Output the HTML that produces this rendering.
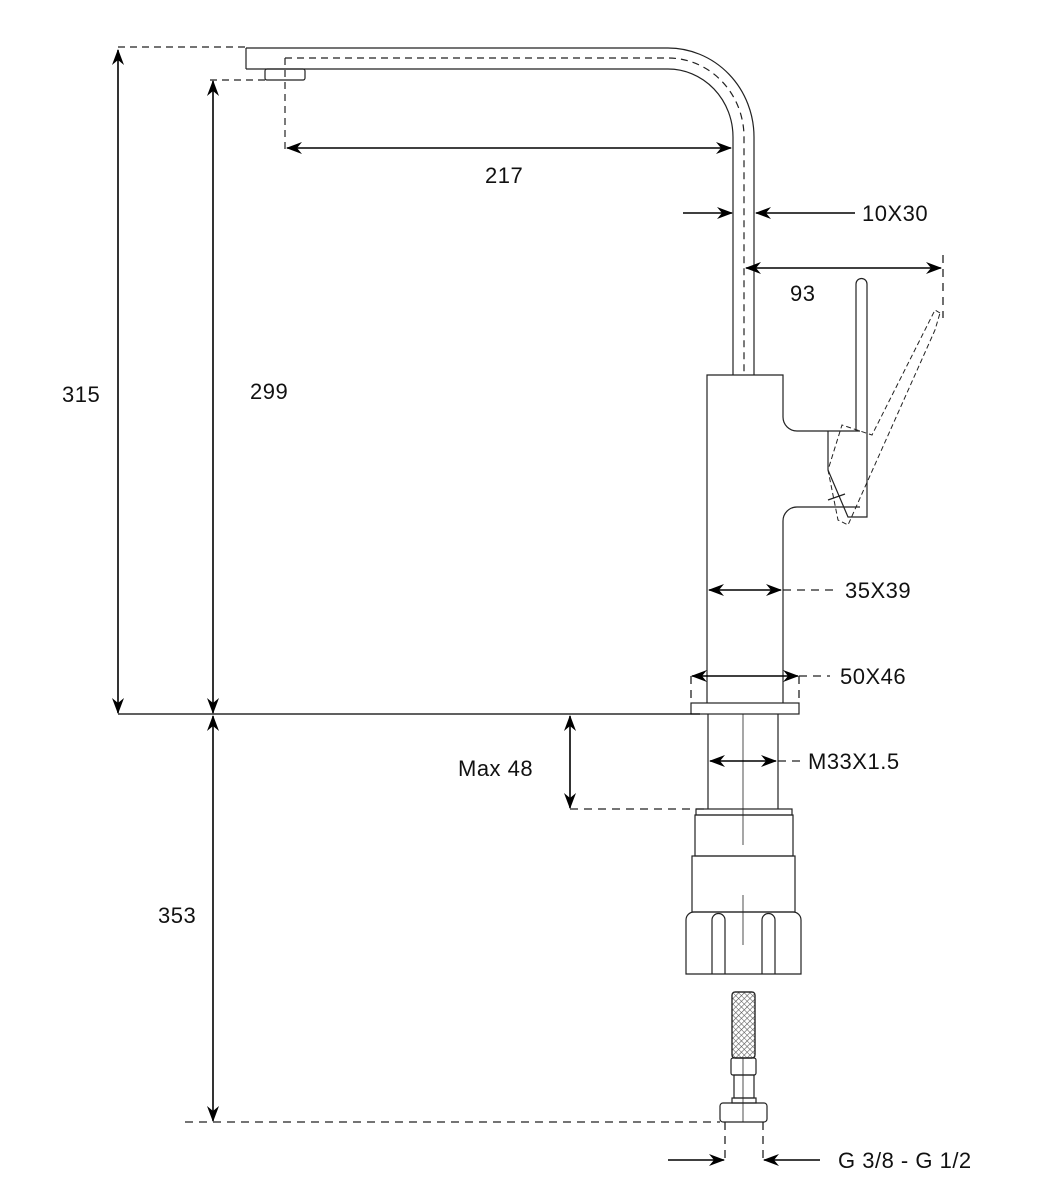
<!DOCTYPE html>
<html><head><meta charset="utf-8"><style>
html,body{margin:0;padding:0;background:#fff}
svg{display:block}
text{font-family:"Liberation Sans",sans-serif;font-size:22px;fill:#111;letter-spacing:0.5px}
</style></head><body>
<svg width="1040" height="1200" viewBox="0 0 1040 1200" xmlns="http://www.w3.org/2000/svg">
<defs>
<marker id="a" viewBox="0 0 16 12" refX="15" refY="6" markerWidth="16" markerHeight="12" markerUnits="userSpaceOnUse" orient="auto-start-reverse">
<path d="M0,0 L16,6 L0,12 L5,6 Z" fill="#000"/></marker>
<pattern id="h" width="4" height="4" patternUnits="userSpaceOnUse" patternTransform="rotate(45)"><line x1="0" y1="0" x2="0" y2="4" stroke="#555" stroke-width="1.2"/></pattern>
<pattern id="h2" width="4" height="4" patternUnits="userSpaceOnUse" patternTransform="rotate(-45)"><line x1="0" y1="0" x2="0" y2="4" stroke="#555" stroke-width="1"/></pattern>
</defs>
<g fill="none" stroke="#222" stroke-width="1.2">
<path d="M246,48 L668,48 A86,89 0 0 1 754,137 L754,375"/>
<path d="M246,69 L668,69 A65,68 0 0 1 733,137 L733,375"/>
<line x1="246" y1="48" x2="246" y2="69"/>
<rect x="265" y="69" width="40" height="11" rx="2"/>
<path d="M285,58 L668,58 A76,79 0 0 1 744,137 L744,375" stroke-dasharray="7,5"/>
<line x1="285" y1="58" x2="285" y2="150" stroke-dasharray="7,5"/>
<line x1="118" y1="47" x2="246" y2="47" stroke-dasharray="7,5"/>
<line x1="210" y1="80" x2="265" y2="80" stroke-dasharray="7,5"/>
<path d="M707,703 L707,375 L783,375 L783,417 A14,14 0 0 0 797,431 L860,431"/>
<path d="M860,507 L797,507 A14,14 0 0 0 783,521 L783,703"/>
<path d="M856,431 L856,284 A5,5 0 0 1 867,284 L867,517 L848,517 L828,470 L828,431"/>
<line x1="828" y1="500" x2="845" y2="494"/>
<path d="M940,313 L935,310 L872,435 L842,425 L828,470 L838,520 L848,525 L935,330 Z" stroke-dasharray="5,3" stroke-width="1"/>
<rect x="691" y="703" width="108" height="11"/>
<line x1="708" y1="714" x2="708" y2="809"/><line x1="778" y1="714" x2="778" y2="809"/>
<rect x="696" y="809" width="96" height="6"/>
<rect x="695" y="815" width="98" height="41"/>
<rect x="692" y="856" width="103" height="56"/>
<path d="M686,974 L686,920 A8,8 0 0 1 694,912 L793,912 A8,8 0 0 1 801,920 L801,974 Z"/>
<path d="M712,974 L712,920 A6,6 0 0 1 725,920 L725,974"/>
<path d="M762,974 L762,920 A6,6 0 0 1 775,920 L775,974"/>
<line x1="743" y1="714" x2="743" y2="845" stroke-width="0.8"/>
<line x1="743" y1="895" x2="743" y2="945" stroke-width="0.8"/>
<rect x="732" y="992" width="23" height="66" rx="3" fill="url(#h)"/>
<rect x="732" y="992" width="23" height="66" rx="3" fill="url(#h2)"/>
<rect x="731" y="1058" width="25" height="17" rx="2"/>
<rect x="734" y="1075" width="20" height="23"/>
<rect x="732" y="1098" width="24" height="5"/>
<rect x="720" y="1103" width="47" height="19" rx="3"/>
<line x1="743" y1="1058" x2="743" y2="1122" stroke-width="0.8"/>
</g>
<g fill="none" stroke="#222" stroke-width="1.3" stroke-dasharray="8,6">
<line x1="943" y1="255" x2="943" y2="318"/>
<line x1="783" y1="590" x2="835" y2="590"/>
<line x1="799" y1="676" x2="830" y2="676"/>
<line x1="691" y1="676" x2="691" y2="703"/>
<line x1="799" y1="676" x2="799" y2="703"/>
<line x1="778" y1="761" x2="800" y2="761"/>
<line x1="570" y1="809" x2="708" y2="809"/>
<line x1="185" y1="1122" x2="720" y2="1122"/>
<line x1="725" y1="1122" x2="725" y2="1162"/>
<line x1="763" y1="1122" x2="763" y2="1162"/>
</g>
<g stroke="#000" stroke-width="1.6" fill="none">
<line x1="118" y1="714" x2="700" y2="714" stroke-width="1.3"/>
<line x1="287" y1="148" x2="731" y2="148" marker-start="url(#a)" marker-end="url(#a)"/>
<line x1="683" y1="213" x2="732" y2="213" marker-end="url(#a)"/>
<line x1="855" y1="213" x2="756" y2="213" marker-end="url(#a)"/>
<line x1="746" y1="268" x2="941" y2="268" marker-start="url(#a)" marker-end="url(#a)"/>
<line x1="709" y1="590" x2="781" y2="590" marker-start="url(#a)" marker-end="url(#a)"/>
<line x1="692" y1="676" x2="798" y2="676" marker-start="url(#a)" marker-end="url(#a)"/>
<line x1="710" y1="761" x2="776" y2="761" marker-start="url(#a)" marker-end="url(#a)"/>
<line x1="570" y1="716" x2="570" y2="808" marker-start="url(#a)" marker-end="url(#a)"/>
<line x1="118" y1="50" x2="118" y2="713" marker-start="url(#a)" marker-end="url(#a)"/>
<line x1="213" y1="81" x2="213" y2="713" marker-start="url(#a)" marker-end="url(#a)"/>
<line x1="213" y1="716" x2="213" y2="1121" marker-start="url(#a)" marker-end="url(#a)"/>
<line x1="668" y1="1160" x2="724" y2="1160" marker-end="url(#a)"/>
<line x1="820" y1="1160" x2="764" y2="1160" marker-end="url(#a)"/>
</g>
<text x="485" y="183">217</text>
<text x="862" y="221">10X30</text>
<text x="790" y="301">93</text>
<text x="62" y="402">315</text>
<text x="250" y="399">299</text>
<text x="845" y="598">35X39</text>
<text x="840" y="684">50X46</text>
<text x="808" y="769">M33X1.5</text>
<text x="458" y="776">Max 48</text>
<text x="158" y="923">353</text>
<text x="838" y="1168">G 3/8 - G 1/2</text>
</svg>
</body></html>
